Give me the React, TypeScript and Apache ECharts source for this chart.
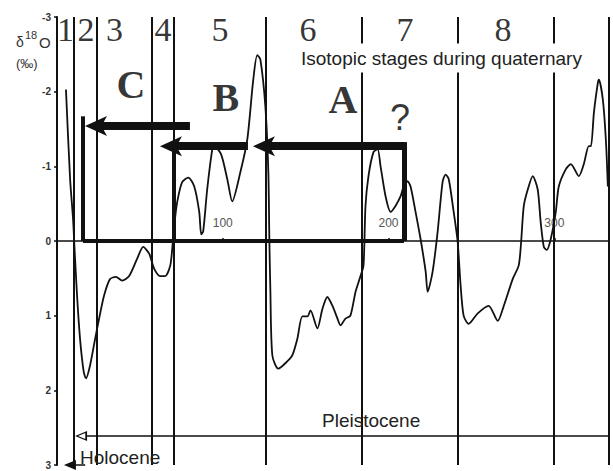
import React, { useEffect, useRef } from "react";
import * as echarts from "echarts";

// ---- data (age in kyr BP, delta 18O in per mil) ----
const ageKyr = [
  5.4, 7.9, 9.7, 10.5, 12.1, 13.9, 16.1, 17.5, 19.9, 23.0,
  25.4, 28.4, 32.0, 35.6, 39.3, 43.5, 48.3, 52.0, 55.6, 58.6,
  62.2, 65.3, 68.3, 69.5, 70.7, 72.5, 75.5, 79.2, 82.8, 85.8,
  87.0, 88.2, 90.6, 93.7, 94.9, 99.0, 102.8, 105.7, 110.6, 114.8, 118.4,
  120.8, 122.7, 125.7, 127.5, 128.1, 128.7, 129.9, 133.5, 139.0, 142.0,
  145.0, 148.0, 151.1, 152.9, 157.1, 160.1, 163.1, 166.2, 169.2, 171.0,
  174.0, 177.0, 180.1, 183.1, 184.9, 186.1, 187.9, 190.9, 193.4, 195.2,
  198.2, 201.2, 204.2, 207.3, 209.1, 211.5, 213.3, 216.3, 219.3, 222.4,
  223.6, 226.6, 229.6, 232.6, 234.4, 236.3, 239.3, 241.7, 243.5, 245.3,
  248.3, 253.8, 260.4, 265.9, 269.5, 274.9, 278.5, 279.8, 281.6, 284.0,
  287.0, 290.0, 291.8, 293.7, 295.5, 297.9, 300.9, 302.7, 306.9, 310.0,
  314.8, 317.8, 320.8, 322.1, 323.9, 326.3, 326.9, 329.3, 331.1, 332.3,
];
const d18O = [
  -2.03, -0.83, -0.29, 0.07, 0.73, 1.31, 1.75, 1.84, 1.67, 1.31,
  1.04, 0.73, 0.51, 0.48, 0.53, 0.47, 0.24, 0.08, 0.17, 0.37,
  0.47, 0.47, 0.33, 0.11, -0.2, -0.52, -0.79, -0.85, -0.73, -0.39,
  -0.09, -0.13, -0.69, -1.23, -1.27, -1.16, -0.82, -0.53, -0.92, -1.36, -2.16,
  -2.49, -2.43, -1.8, -0.92, -0.03, 0.64, 1.53, 1.71, 1.61, 1.53,
  1.31, 1.01, 1.01, 0.93, 1.17, 0.91, 0.75, 0.87, 1.04, 1.13,
  1.04, 1.0, 0.68, 0.47, 0.33, -0.47, -0.87, -1.19, -1.23, -1.0,
  -0.6, -0.39, -0.47, -0.6, -0.73, -0.8, -0.73, -0.39, -0.03, 0.41,
  0.68, 0.41, -0.12, -0.79, -0.89, -0.83, -0.39, 0.01, 0.6, 1.0,
  1.11, 0.97, 0.87, 1.07, 0.87, 0.51, 0.33, 0.07, -0.47, -0.69,
  -0.87, -0.69, -0.25, 0.08, 0.12, -0.03, -0.39, -0.73, -0.96, -1.03,
  -0.87, -1.03, -1.27, -1.27, -1.72, -2.12, -2.16, -1.89, -1.36, -0.73,
];

const xTickLabels = [100, 200, 300];

// isotopic stages
const stageNames = ["1", "2", "3", "4", "5", "6", "7", "8"];
const stageLabelAge = [5.1, 17.5, 34.7, 63.9, 98.3, 151.4, 209.9, 269.0];
const stageLabelLevel = -2.83;
const stageBoundaries = [10.25, 24.1, 57.3, 70.6, 126.1, 184.0, 241.9, 299.8, 333];

// arrows A, B, C
const arrowNames = ["A", "B", "C"];
const arrowFromAge = [209.3, 115.2, 80.2];
const arrowTipAge = [118.2, 62.1, 16.9];
const arrowLevel = [-1.27, -1.27, -1.54];
const letterAge = [172.5, 101.9, 44.6];
const letterLevel = [-1.89, -1.92, -2.09];
const questionAge = 206.9;
const questionLevel = -1.66;

// frame of the A-B-C construction
const boxLeftAge = 15.7;
const boxRightAge = 209.3;
const cVerticalTop = -1.67;
const bVerticalAge = 70.6;

// epochs
const pleistoceneLevel = 2.61;
const pleistoceneTipAge = 10.9;
const holoceneLevel = 3.0;
const holoceneTipAge = 4.2;
const holoceneFromAge = 17.0;

// ---- layout ----
const GRID = { left: 57, top: 17, width: 552, height: 448 };
const X_MIN = 0;
const X_MAX = 333;
const PX_PER_KYR = GRID.width / (X_MAX - X_MIN);
const INK = "#111";
const SERIF = "Liberation Serif";
const SANS = "Liberation Sans";

const OPEN_TRI = "path://M0,0L10,20L-10,20Z M0,5L-6,17L6,17Z";

function seg(t1: number, v1: number, t2: number, v2: number, width: number) {
  const ls = { width, color: INK, type: "solid" as const };
  return [
    { coord: [t1, v1], symbol: "none", lineStyle: ls },
    { coord: [t2, v2], symbol: "none", lineStyle: ls },
  ];
}

// thick bar ending inside the head + an invisible stub carrying the arrow head
function arrowItems(fromT: number, tipT: number, v: number, width: number, headW: number, headL: number) {
  const dir = fromT > tipT ? 1 : -1;
  const barEnd = tipT + (dir * headL * 0.6) / PX_PER_KYR;
  const stubStart = tipT + (dir * headL * 0.8) / PX_PER_KYR;
  const hidden = { width: 0, color: INK, type: "solid" as const };
  return [
    seg(fromT, v, barEnd, v, width),
    [
      { coord: [stubStart, v], symbol: "none", lineStyle: hidden },
      { coord: [tipT, v], symbol: "arrow", symbolSize: [headW, headL], lineStyle: hidden },
    ],
  ];
}

export default function App() {
  const ref = useRef<HTMLDivElement>(null);

  useEffect(() => {
    if (!ref.current) return;
    const chart = echarts.init(ref.current, undefined, { renderer: "svg" });

    const boundaryItems = stageBoundaries.map((t) => ({ xAxis: t }));
    const arrows: any[] = [];
    arrowNames.forEach((_, i) => {
      arrows.push(...arrowItems(arrowFromAge[i], arrowTipAge[i], arrowLevel[i], 8, 15, 22));
    });
    const pleistHeadL = 12;
    const pleistBack = pleistoceneTipAge + pleistHeadL / PX_PER_KYR;
    const pleistCenter = pleistoceneTipAge + pleistHeadL / 2 / PX_PER_KYR;
    const holoHeadL = 12;
    const holoCenter = holoceneTipAge + holoHeadL / 2 / PX_PER_KYR;

    const markData: any[] = [
      ...boundaryItems,
      seg(boxLeftAge, 0, boxRightAge, 0, 4),
      seg(boxLeftAge, cVerticalTop, boxLeftAge, 0, 4),
      seg(boxRightAge, arrowLevel[0] - 0.055, boxRightAge, 0, 5),
      seg(bVerticalAge, arrowLevel[1], bVerticalAge, 0, 4),
      ...arrows,
      seg(X_MAX, pleistoceneLevel, pleistBack, pleistoceneLevel, 1.5),
      [
        { coord: [pleistBack, pleistoceneLevel], symbol: "none", lineStyle: { width: 0, color: INK } },
        {
          coord: [pleistCenter, pleistoceneLevel],
          symbol: OPEN_TRI,
          symbolSize: [10, pleistHeadL],
          lineStyle: { width: 0, color: INK },
        },
      ],
      [
        { coord: [holoceneFromAge, holoceneLevel], symbol: "none", lineStyle: { width: 1.5, color: INK } },
        {
          coord: [holoCenter, holoceneLevel],
          symbol: "triangle",
          symbolSize: [10, holoHeadL],
          lineStyle: { width: 1.5, color: INK },
        },
      ],
    ];

    const noBorder = { textBorderWidth: 0, textBorderColor: "transparent", textShadowBlur: 0 };
    const stageLabelData = stageNames.map((n, i) => ({
      name: n,
      value: [stageLabelAge[i], stageLabelLevel],
      label: { fontFamily: SERIF, fontSize: 34, color: "#000", ...noBorder },
    }));
    const letterData = arrowNames.map((n, i) => ({
      name: n,
      value: [letterAge[i], letterLevel[i]],
      label: { fontFamily: SERIF, fontSize: 40, fontWeight: "bold", color: "#000", ...noBorder },
    }));
    const questionData = [
      {
        name: "?",
        value: [questionAge, questionLevel],
        label: { fontFamily: SANS, fontSize: 36, color: "#000", ...noBorder },
      },
    ];

    const option: any = {
      animation: false,
      backgroundColor: "#fff",
      grid: { ...GRID, containLabel: false },
      xAxis: {
        type: "value",
        position: "bottom",
        offset: -GRID.height / 2,
        min: X_MIN,
        max: X_MAX,
        interval: 100,
        axisLine: { show: true, onZero: false, lineStyle: { color: INK, width: 1.5 } },
        axisTick: { show: true, inside: true, length: 3, lineStyle: { color: INK, width: 1.5 } },
        axisLabel: {
          show: true,
          inside: true,
          margin: 12,
          fontSize: 12,
          fontFamily: SANS,
          color: "#555",
          formatter: (v: number) => (xTickLabels.includes(v) ? String(v) : ""),
        },
        splitLine: { show: false },
      },
      yAxis: {
        type: "value",
        inverse: true,
        min: -3,
        max: 3,
        interval: 1,
        axisLine: { show: true, onZero: false, lineStyle: { color: INK, width: 2 } },
        axisTick: { show: true, length: 3, lineStyle: { color: INK, width: 1.5 } },
        axisLabel: { fontSize: 10, fontWeight: "bold", fontFamily: SANS, color: "#333", margin: 6 },
        splitLine: { show: false },
      },
      series: [
        {
          type: "line",
          data: ageKyr.map((t, i) => [t, d18O[i]]),
          showSymbol: false,
          smooth: 0.25,
          clip: false,
          z: 3,
          lineStyle: { color: INK, width: 1.8 },
          markLine: {
            silent: true,
            symbol: ["none", "none"],
            label: { show: false },
            emphasis: { disabled: true },
            lineStyle: { type: "solid", color: INK, width: 2 },
            data: markData,
          },
        },
        {
          type: "scatter",
          symbolSize: 0,
          silent: true,
          z: 4,
          label: { show: true, position: "inside", formatter: "{b}" },
          data: [...stageLabelData, ...letterData, ...questionData],
        },
      ],
      graphic: [
        {
          type: "text",
          x: 298,
          y: 58,
          z: 100,
          style: {
            text: "Isotopic stages during quaternary",
            font: `19px "${SANS}"`,
            fill: "#222",
            textVerticalAlign: "middle",
            backgroundColor: "#fff",
            padding: [5, 4, 5, 3],
          },
        },
        {
          type: "text",
          x: 322,
          y: 420,
          z: 100,
          style: { text: "Pleistocene", font: `19px "${SANS}"`, fill: "#222", textVerticalAlign: "middle" },
        },
        {
          type: "text",
          x: 80,
          y: 457,
          z: 100,
          style: { text: "Holocene", font: `19px "${SANS}"`, fill: "#222", textVerticalAlign: "middle" },
        },
        {
          type: "text",
          x: 16,
          y: 42,
          z: 100,
          style: { text: "δ", font: `14px "${SANS}"`, fill: "#333", textVerticalAlign: "middle" },
        },
        {
          type: "text",
          x: 25,
          y: 35,
          z: 100,
          style: { text: "18", font: `11px "${SANS}"`, fill: "#333", textVerticalAlign: "middle" },
        },
        {
          type: "text",
          x: 39,
          y: 42,
          z: 100,
          style: { text: "O", font: `15px "${SANS}"`, fill: "#333", textVerticalAlign: "middle" },
        },
        {
          type: "text",
          x: 16,
          y: 63,
          z: 100,
          style: { text: "(‰)", font: `13px "${SANS}"`, fill: "#333", textVerticalAlign: "middle" },
        },
      ],
    };

    chart.setOption(option);
    return () => chart.dispose();
  }, []);

  return (
    <div
      ref={ref}
      style={{ position: "fixed", left: 0, top: 0, width: 613, height: 471, background: "#fff" }}
    />
  );
}
